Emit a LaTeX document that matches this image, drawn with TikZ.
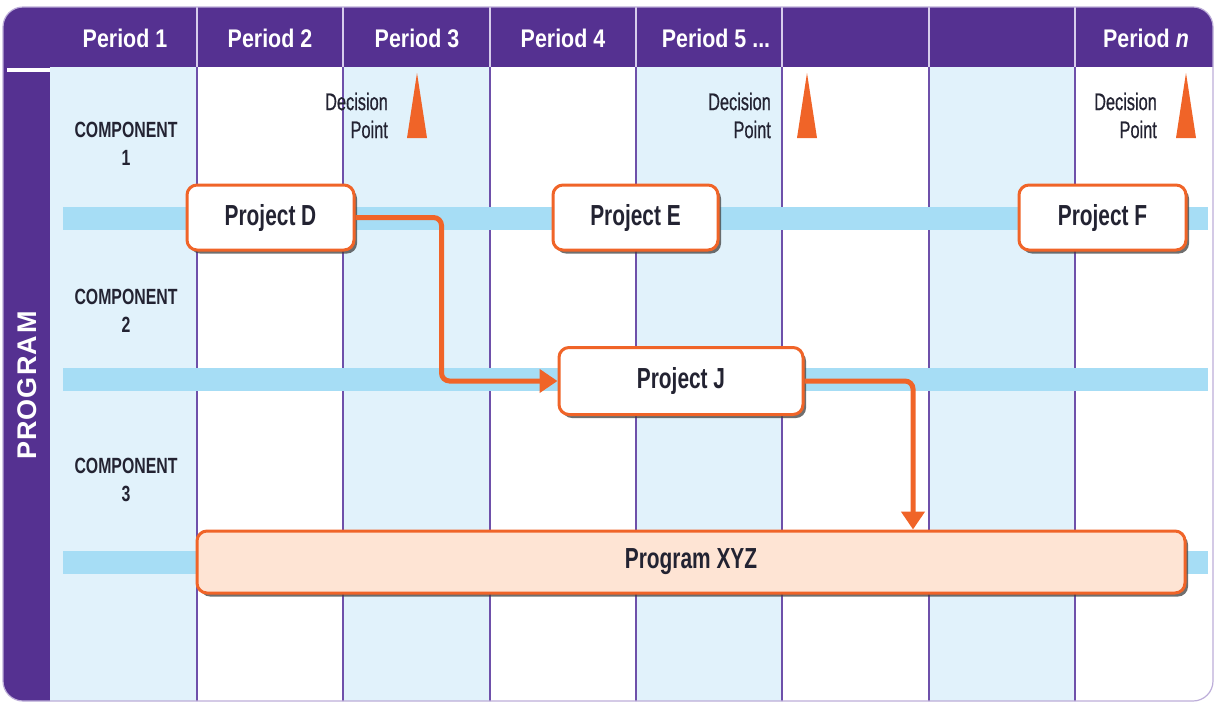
\documentclass[tikz,border=0pt]{standalone}
\usepackage{fontspec}
\setmainfont{Liberation Sans}
\newfontfamily\fA{Liberation Sans}[FakeStretch=0.84]
\newfontfamily\fB{Liberation Sans}[FakeStretch=0.72]
\newfontfamily\fC{Liberation Sans}[FakeStretch=0.72]
\newfontfamily\fD{Liberation Sans}[FakeStretch=0.68,FakeBold=0.6]
\usetikzlibrary{arrows.meta,shadows}
\definecolor{pur}{RGB}{85,49,145}
\definecolor{colblue}{RGB}{225,242,251}
\definecolor{lane}{RGB}{166,221,245}
\definecolor{org}{RGB}{240,100,40}
\definecolor{peach}{RGB}{254,228,212}
\definecolor{vline}{RGB}{110,80,170}
\definecolor{hline}{RGB}{215,205,235}
\definecolor{txt}{RGB}{35,35,50}
\begin{document}
\begin{tikzpicture}[x=1pt,y=-1pt,
  proj/.style={draw=org, line width=3pt, fill=white, rounded corners=10pt,
    drop shadow={shadow xshift=3pt, shadow yshift=-3.5pt, fill=black!75, opacity=0.75},
    text=txt, font=\fB\bfseries\fontsize{29}{30}\selectfont, inner sep=0pt},
  hdrtxt/.style={text=white, anchor=base, inner sep=0pt, font=\fA\bfseries\fontsize{25.5}{28}\selectfont},
  comp/.style={text=txt, align=center, inner sep=0pt, font=\fC\bfseries\fontsize{22}{28}\selectfont},
  dec/.style={text=txt, align=right, inner sep=0pt, anchor=east, font=\fD\fontsize{24}{28}\selectfont},
  arr/.style={draw=org, line width=5pt, rounded corners=8pt, -{Triangle[length=18pt,width=23pt]}},
  tri/.style={fill=org}
]
\useasboundingbox (0,0) rectangle (1215,702);
% background
\begin{scope}
\clip[rounded corners=20pt] (3,7) rectangle (1213,701);
\fill[white] (0,0) rectangle (1215,702);
\foreach \a/\b in {50/197,343/490,636/782,929/1075}
  \fill[colblue] (\a,67) rectangle (\b,702);
\fill[pur] (0,0) rectangle (1215,67);
\fill[pur] (0,67) rectangle (50,702);
\fill[white] (7,68) rectangle (50,72);
\foreach \x in {197,343,490,636,782,929,1075} {
  \draw[hline, line width=1.3pt] (\x,7) -- (\x,67);
  \draw[vline, line width=1.5pt] (\x,67) -- (\x,702);
}
\end{scope}
\draw[hline!80!pur, line width=1.2pt, rounded corners=20pt] (3,7) rectangle (1213,701);
% lanes
\fill[lane] (63,207) rectangle (1208,230);
\fill[lane] (63,368) rectangle (1208,391);
\fill[lane] (63,551) rectangle (1208,574);
% header
\node[hdrtxt] (h1) at (125,47) {Period 1};
\node[hdrtxt] (h2) at (270,47) {Period 2};
\node[hdrtxt] (h3) at (417,47) {Period 3};
\node[hdrtxt] (h4) at (563,47) {Period 4};
\node[hdrtxt] (h5) at (716,47) {Period 5 ...};
\node[hdrtxt] (hn) at (1146,47) {Period \textit{n}};
% program label
\node[text=white, rotate=90, inner sep=0pt, font=\bfseries\fontsize{27}{27}\selectfont] (prog) at (27,385) {P\kern1ptR\kern1ptO\kern1ptG\kern1ptR\kern1ptA\kern3ptM};
% components
\node[comp] (c1) at (126,143.5) {COMPONENT\\1};
\node[comp] (c2) at (126,310.5) {COMPONENT\\2};
\node[comp] (c3) at (126,479.5) {COMPONENT\\3};
% decision points
\node[dec] (d1) at (388,115.5) {Decision\\Point};
\node[dec] (d2) at (771,115.5) {Decision\\Point};
\node[dec] (d3) at (1157,115.5) {Decision\\Point};
\fill[tri] (407,138) -- (417,73) -- (427,138) -- cycle;
\fill[tri] (797,138) -- (807,73) -- (817,138) -- cycle;
\fill[tri] (1176,138) -- (1186,73) -- (1196,138) -- cycle;
% projects
\node[proj, minimum width=167pt, minimum height=65pt] (pd) at (270.5,217.5) {Project D};
\node[proj, minimum width=165pt, minimum height=65pt] (pe) at (635.5,217.5) {Project E};
\node[proj, minimum width=167pt, minimum height=65pt] (pf) at (1102.5,217.5) {Project F};
\node[proj, minimum width=244pt, minimum height=67pt] (pj) at (681,381) {Project J};
\node[proj, fill=peach, minimum width=988pt, minimum height=62pt] (px) at (691,562) {Program XYZ};
% connectors
\draw[arr] (pd.east) -- ([xshift=86pt]pd.east) |- (pj.west);
\draw[arr] (pj.east) -| ([xshift=222pt]px.north);
\end{tikzpicture}
\end{document}
